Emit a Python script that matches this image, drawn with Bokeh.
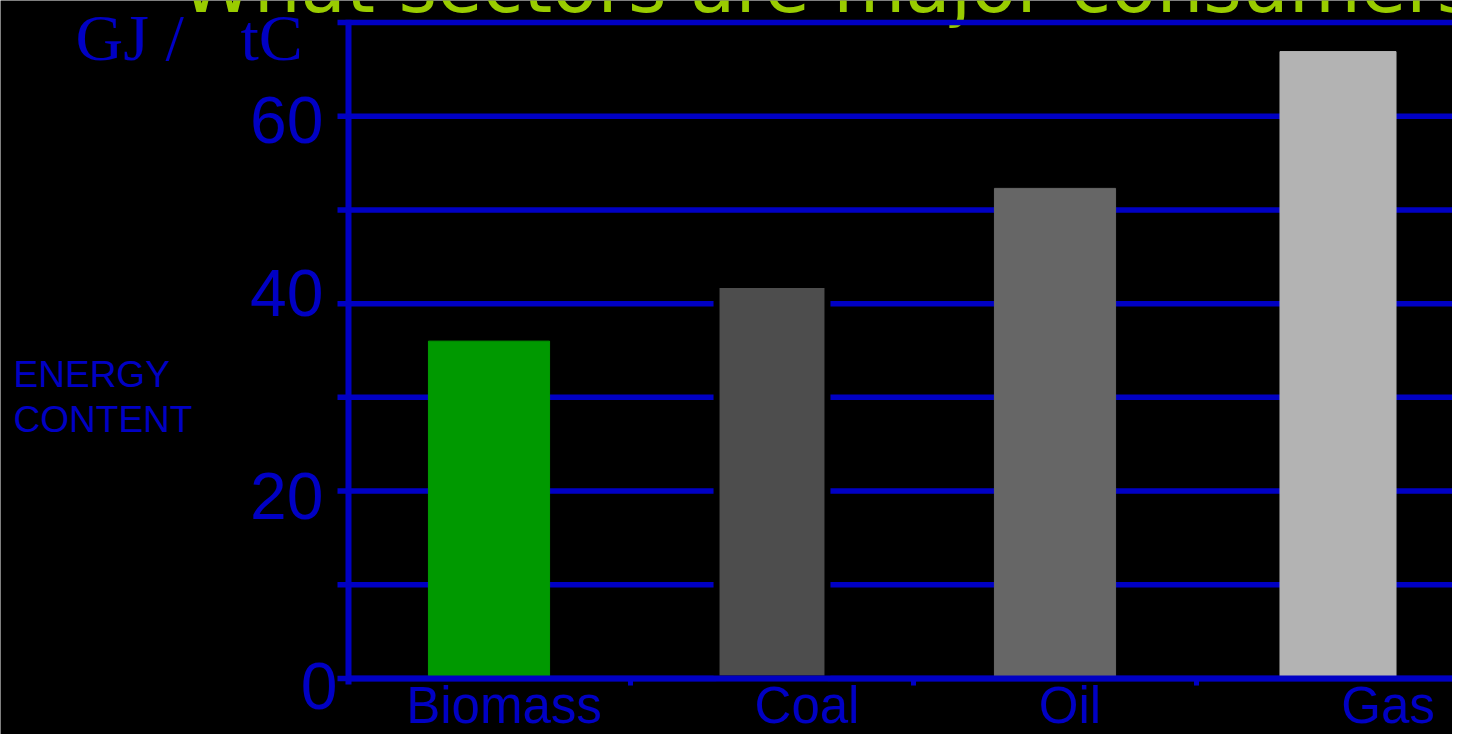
from bokeh.plotting import figure
from bokeh.models import Range1d, ColumnDataSource
from bokeh.core.properties import value
from bokeh.embed import file_html
from bokeh.resources import INLINE

# ---- data ----
categories = ["Biomass", "Coal", "Oil", "Gas"]
energy_content = [36.0, 42.0, 52.3, 66.9]          # GJ / tC
grid_values = [0, 10, 20, 30, 40, 50, 60, 70]
tick_values = [0, 20, 40, 60]
tick_labels = ["0", "20", "40", "60"]
boundary_values = [1, 2, 3]
title_text = "What sectors are major consumers"
unit_parts = ["GJ /", "tC"]
side_lines = ["ENERGY", "CONTENT"]

# ---- styles ----
BLUE = "#0000C4"
bar_colors = ["#009900", "#4D4D4D", "#666666", "#B3B3B3"]
bar_line_colors = ["#009900", "#000000", "#666666", "#B3B3B3"]
bar_line_widths = [1, 6, 1, 1]
bar_widths = [0.428, 0.392, 0.428, 0.41]
label_x_offsets = [15, 35, 15, 50]
tick_label_dx = [-10, -24, -24, -24]
tick_label_dy = [7, 5, -11, 4]

X0, X1 = -1.22615, 3.90459
Y0, Y1 = -5.9756, 72.348

centers = [i + 0.5 for i in range(len(categories))]

p = figure(width=1452, height=734,
           x_range=Range1d(X0, X1), y_range=Range1d(Y0, Y1),
           output_backend="svg", toolbar_location=None,
           x_axis_location=None, y_axis_location=None,
           min_border=0)
p.background_fill_color = "black"
p.border_fill_color = "black"
p.outline_line_color = None
p.xgrid.visible = False
p.ygrid.visible = False

# title (drawn first so the top grid line crosses it)
p.text(x=[-0.590], y=[69.3], text=[title_text],
       text_font=value("DejaVu Sans"), text_font_size=value("74px"),
       text_color="#99CC00", text_align="left", text_baseline="bottom")

# horizontal grid lines (extend left of axis as ticks)
p.segment(x0=[-0.0353] * len(grid_values), x1=[X1 + 0.1] * len(grid_values),
          y0=grid_values, y1=grid_values, line_color=BLUE, line_width=5.5)

# bars
src = ColumnDataSource(dict(x=centers, top=energy_content, w=bar_widths,
                            fc=bar_colors, lc=bar_line_colors, lw=bar_line_widths))
p.vbar(x="x", top="top", width="w", bottom=0, source=src,
       fill_color="fc", line_color="lc", line_width="lw")

# axes lines
p.segment(x0=[0.0035], x1=[0.0035], y0=[-0.64], y1=[70.3], line_color=BLUE, line_width=6)
p.segment(x0=[0.0], x1=[X1 + 0.1], y0=[0], y1=[0], line_color=BLUE, line_width=6)
p.segment(x0=boundary_values, x1=boundary_values, y0=[0] * 3, y1=[-0.75] * 3,
          line_color=BLUE, line_width=5)

# y tick labels
p.text(x=[0] * len(tick_values), y=tick_values, text=tick_labels,
       x_offset=tick_label_dx, y_offset=tick_label_dy,
       text_font=value("Liberation Sans"), text_font_size=value("66px"),
       text_color=BLUE, text_align="right", text_baseline="middle")

# category labels
p.text(x=centers, y=[-2.85] * len(categories), text=categories,
       x_offset=label_x_offsets,
       text_font=value("Liberation Sans"), text_font_size=value("51px"),
       text_color=BLUE, text_align="center", text_baseline="middle")

# unit text
p.text(x=[-0.961, -0.378], y=[68.45, 68.45], text=unit_parts,
       text_font=value("Liberation Serif"), text_font_size=value("66px"),
       text_color=BLUE, text_align="left", text_baseline="middle")

# side label
p.text(x=[-1.180, -1.180], y=[32.44, 27.64], text=side_lines,
       text_font=value("Liberation Sans"), text_font_size=value("37px"),
       text_color=BLUE, text_align="left", text_baseline="middle")

open("out.html", "w").write(file_html(p, INLINE))
